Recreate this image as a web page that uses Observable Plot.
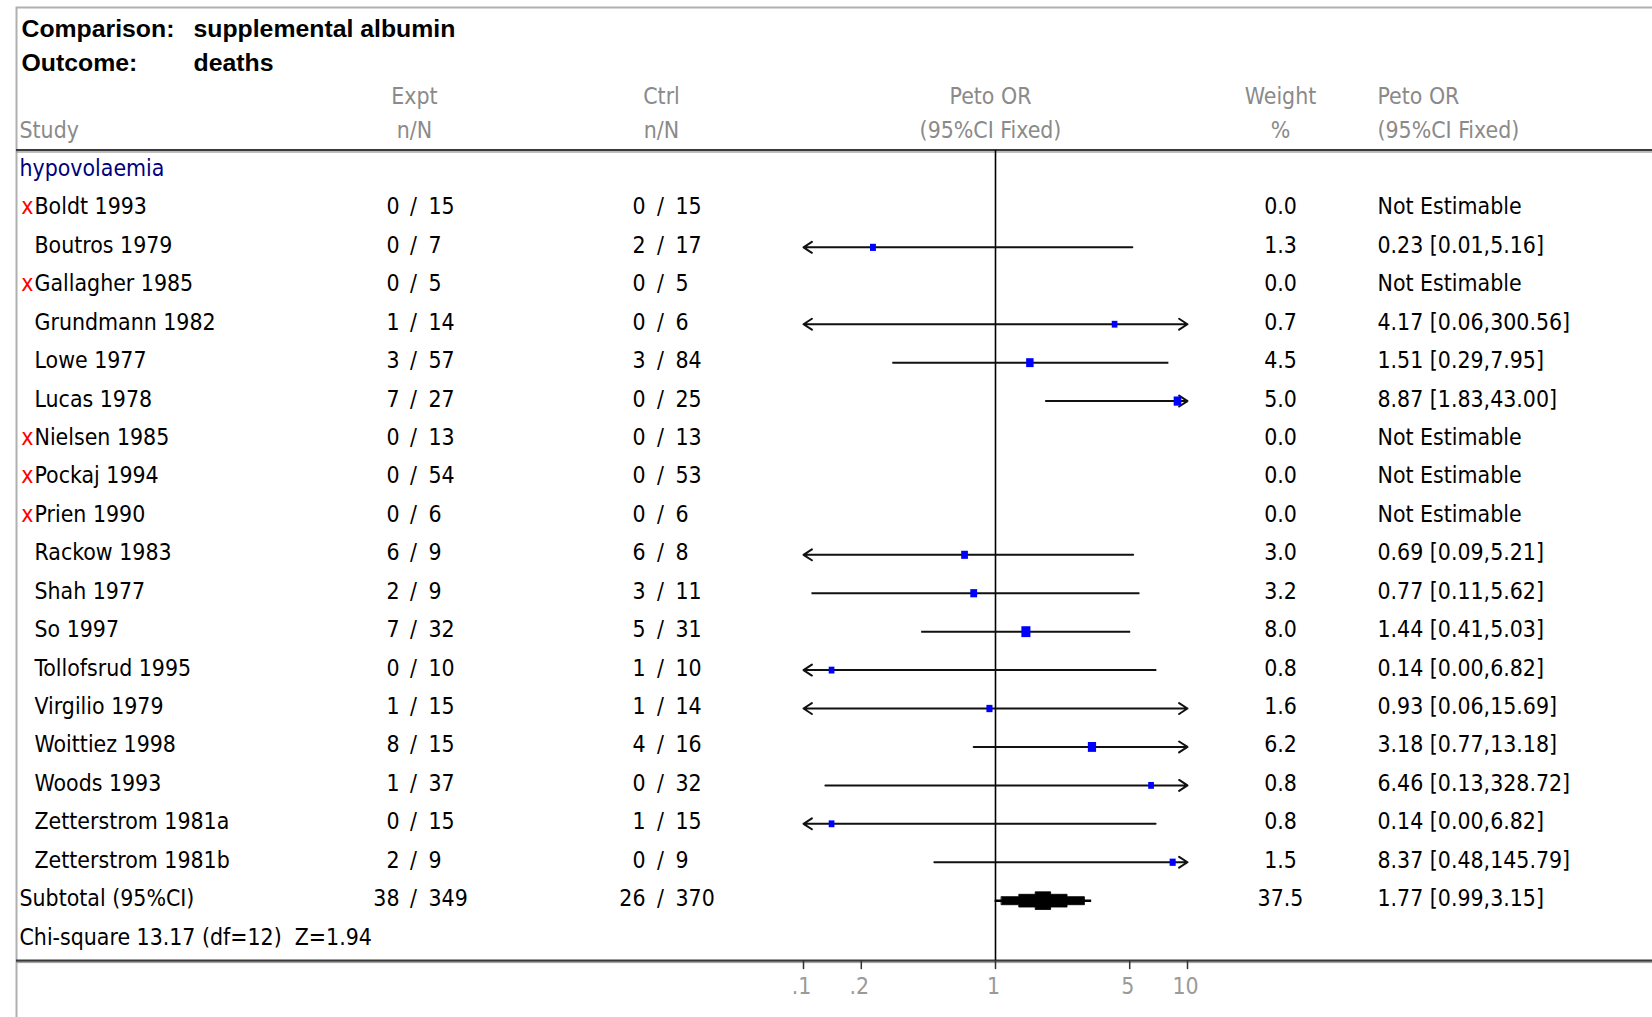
<!DOCTYPE html>
<html>
<head>
<meta charset="utf-8">
<script src="https://cdn.jsdelivr.net/npm/d3@7"></script>
<script src="https://cdn.jsdelivr.net/npm/@observablehq/plot@0.6"></script>
<style>
  html, body { margin: 0; padding: 0; background: #fff; overflow: hidden; }
  #chart svg { display: block; overflow: hidden; }
</style>
</head>
<body>
<div id="chart"></div>
<script>
// ---------------- data ----------------
const comparison = "supplemental albumin";
const outcome = "deaths";
const subgroup = "hypovolaemia";

const studies = ["Boldt 1993", "Boutros 1979", "Gallagher 1985", "Grundmann 1982", "Lowe 1977",
  "Lucas 1978", "Nielsen 1985", "Pockaj 1994", "Prien 1990", "Rackow 1983", "Shah 1977", "So 1997",
  "Tollofsrud 1995", "Virgilio 1979", "Woittiez 1998", "Woods 1993", "Zetterstrom 1981a", "Zetterstrom 1981b"];
const excluded = [true, false, true, false, false, false, true, true, true, false, false, false,
  false, false, false, false, false, false];
const exptEvents = [0, 0, 0, 1, 3, 7, 0, 0, 0, 6, 2, 7, 0, 1, 8, 1, 0, 2];
const exptTotal  = [15, 7, 5, 14, 57, 27, 13, 54, 6, 9, 9, 32, 10, 15, 15, 37, 15, 9];
const ctrlEvents = [0, 2, 0, 0, 3, 0, 0, 0, 0, 6, 3, 5, 1, 1, 4, 0, 1, 0];
const ctrlTotal  = [15, 17, 5, 6, 84, 25, 13, 53, 6, 8, 11, 31, 10, 14, 16, 32, 15, 9];
const weights    = [0.0, 1.3, 0.0, 0.7, 4.5, 5.0, 0.0, 0.0, 0.0, 3.0, 3.2, 8.0, 0.8, 1.6, 6.2, 0.8, 0.8, 1.5];
const oddsRatio  = [null, 0.23, null, 4.17, 1.51, 8.87, null, null, null, 0.69, 0.77, 1.44, 0.14, 0.93, 3.18, 6.46, 0.14, 8.37];
const ciLow      = [null, 0.01, null, 0.06, 0.29, 1.83, null, null, null, 0.09, 0.11, 0.41, 0.00, 0.06, 0.77, 0.13, 0.00, 0.48];
const ciHigh     = [null, 5.16, null, 300.56, 7.95, 43.00, null, null, null, 5.21, 5.62, 5.03, 6.82, 15.69, 13.18, 328.72, 6.82, 145.79];

const subtotalLabel = "Subtotal (95%CI)";
const subtotalCounts = [38, 349, 26, 370];         // expt n, expt N, ctrl n, ctrl N
const subtotalEstimate = [37.5, 1.77, 0.99, 3.15]; // weight, OR, low, high
const heterogeneity = "Chi-square 13.17 (df=12)  Z=1.94";

const headTop    = ["Expt", "Ctrl", "Peto OR", "Weight", "Peto OR"];
const headBottom = ["Study", "n/N", "n/N", "(95%CI Fixed)", "%", "(95%CI Fixed)"];
const tickValues = [0.1, 0.2, 1, 5, 10];
const tickLabels = [".1", ".2", "1", "5", "10"];

// ---------------- fonts ----------------
const ctx = document.createElement("canvas").getContext("2d");
function textWidth(font, s) { ctx.font = font; return ctx.measureText(s).width; }
function hasFont(name) {
  const s = "Boutros 1979 hypovolaemia Wwmi";
  return ["monospace", "serif"].every(fb =>
    Math.abs(textWidth(`100px ${fb}`, s) - textWidth(`100px "${name}", ${fb}`, s)) > 1);
}
const narrowFamily = ["Liberation Sans Narrow", "DejaVu Sans Condensed", "Roboto Condensed"].find(hasFont) || "Liberation Sans";
const BODY_FONT = `"${narrowFamily}", "Liberation Sans", Arial, sans-serif`;
const FS = 100 * 138 / textWidth(`100px ${BODY_FONT}`, "Boutros 1979");
const BOLD_FONT = `"Liberation Sans", Arial, sans-serif`;
const FSB = 100 * 153 / textWidth(`bold 100px ${BOLD_FONT}`, "Comparison:");

// ---------------- layout ----------------
const W = 1652, H = 1017, ML = 16, MT = 7;
const rowTop = 170, rowStep = 38.43;
const ROW_COMP = -3.67, ROW_OUT = -2.79, ROW_H1 = -1.915, ROW_H2 = -1.04;
const TOP_EDGE = -0.53, BOTTOM_EDGE = 20.56, TICK_LEN = 0.234, TICK_LABEL_ROW = 21.24;
const TEXT_DY = -1.8;
// stepped diamond: [fraction of CI span from each end, half height in rows]
const DIAMOND_STEPS = [[0.07, 0.105], [0.25, 0.166], [0.42, 0.23]];
const COL = {group: 19, mark: 33, name: 34, bold1: 21, bold2: 193,
  exptN: 399, exptSlash: 413, exptT: 428, exptHead: 414,
  ctrlN: 645, ctrlSlash: 660, ctrlT: 675, ctrlHead: 661,
  forestHead: 990, weight: 1280, ci: 1377};
const INK = "#000", GREY = "#8a8a8a", TICKGREY = "#9a9a9a";
const X_MIN = 0.1, X_MAX = 10;

// ---------------- derived table ----------------
const table = studies.map((name, i) => ({
  name, row: i + 1, excluded: excluded[i],
  en: exptEvents[i], eN: exptTotal[i], cn: ctrlEvents[i], cN: ctrlTotal[i],
  w: weights[i], or: oddsRatio[i], lo: ciLow[i], hi: ciHigh[i]
}));
const subRow = studies.length + 1;
const subtotal = {name: subtotalLabel, row: subRow,
  en: subtotalCounts[0], eN: subtotalCounts[1], cn: subtotalCounts[2], cN: subtotalCounts[3],
  w: subtotalEstimate[0], or: subtotalEstimate[1], lo: subtotalEstimate[2], hi: subtotalEstimate[3]};
const allRows = [...table, subtotal];
const estimable = table.filter(d => d.or != null);

// CI segments: clipped ends get arrowheads
const plain = [], arrows = [];
for (const d of estimable) {
  const loC = Math.max(d.lo, X_MIN), hiC = Math.min(d.hi, X_MAX);
  const cl = d.lo < X_MIN, ch = d.hi > X_MAX;
  if (!cl && !ch) plain.push({row: d.row, a: loC, b: hiC});
  else if (cl && !ch) arrows.push({row: d.row, a: hiC, b: loC});
  else if (!cl && ch) arrows.push({row: d.row, a: loC, b: hiC});
  else { arrows.push({row: d.row, a: d.or, b: loC}); arrows.push({row: d.row, a: d.or, b: hiC}); }
}
// stepped (pixel-style) diamond outline for the pooled estimate
const lgLo = Math.log10(subtotal.lo), lgHi = Math.log10(subtotal.hi);
const at = f => Math.pow(10, lgLo + f * (lgHi - lgLo));
const diamond = [];
{
  const S = DIAMOND_STEPS;
  const top = [];
  for (let k = 0; k < S.length; k++) {
    const [f, h] = S[k];
    if (k > 0) top.push([f, S[k - 1][1]]);
    top.push([f, h]);
  }
  const right = top.slice().reverse().map(([f, h]) => [1 - f, h]);
  const upper = [...top, ...right.map((p, i) => i % 2 === 0 ? [p[0], p[1]] : p)];
  // build the upper outline left->right properly
  const up = [];
  for (let k = 0; k < S.length; k++) {
    const [f, h] = S[k];
    if (k > 0) up.push([f, S[k - 1][1]]);
    up.push([f, h]);
  }
  for (let k = S.length - 1; k >= 0; k--) {
    const [f, h] = S[k];
    up.push([1 - f, h]);
    if (k > 0) up.push([1 - f, S[k - 1][1]]);
  }
  for (const [f, h] of up) diamond.push({x: at(f), y: subRow - h});
  for (const [f, h] of up.slice().reverse()) diamond.push({x: at(f), y: subRow + h});
}
const tallBox = {draw(c, size) { const w = Math.sqrt(size / 1.2), h = w * 1.2; c.rect(-w / 2, -h / 2, w, h); }};

// helper for text columns placed in pixels from the left edge
function col(data, {px, anchor = "start", ...rest}) {
  return Plot.text(data, {frameAnchor: "left", dx: px - ML, textAnchor: anchor,
    fontSize: FS, fill: INK, fontFamily: BODY_FONT, ...rest});
}
const body = (data, o) => col(data, {dy: TEXT_DY, ...o});
const one = (s) => [s];

const plot = Plot.plot({
  width: W, height: H,
  marginLeft: ML, marginTop: MT, marginRight: -3, marginBottom: -3,
  style: {background: "#fff", fontFamily: BODY_FONT, overflow: "hidden"},
  x: {type: "log", domain: [X_MIN, X_MAX], range: [803, 1187], axis: null},
  y: {type: "linear", domain: [0, 20], range: [rowTop, rowTop + 20 * rowStep], axis: null},
  r: {type: "linear", domain: [0, 8], range: [3.3, 5.6]},
  marks: [
    Plot.frame({stroke: "#b0b0b0", strokeWidth: 2}),
    // title block
    col(one("Comparison:"), {px: COL.bold1, y: [ROW_COMP], fontWeight: "bold", fontSize: FSB, fontFamily: BOLD_FONT}),
    col(one(comparison), {px: COL.bold2, y: [ROW_COMP], fontWeight: "bold", fontSize: FSB, fontFamily: BOLD_FONT}),
    col(one("Outcome:"), {px: COL.bold1, y: [ROW_OUT], fontWeight: "bold", fontSize: FSB, fontFamily: BOLD_FONT}),
    col(one(outcome), {px: COL.bold2, y: [ROW_OUT], fontWeight: "bold", fontSize: FSB, fontFamily: BOLD_FONT}),
    // column headers
    col(one(headTop[0]), {px: COL.exptHead, anchor: "middle", y: [ROW_H1], fill: GREY}),
    col(one(headTop[1]), {px: COL.ctrlHead, anchor: "middle", y: [ROW_H1], fill: GREY}),
    col(one(headTop[2]), {px: COL.forestHead, anchor: "middle", y: [ROW_H1], fill: GREY}),
    col(one(headTop[3]), {px: COL.weight, anchor: "middle", y: [ROW_H1], fill: GREY}),
    col(one(headTop[4]), {px: COL.ci, y: [ROW_H1], fill: GREY}),
    col(one(headBottom[0]), {px: COL.group, y: [ROW_H2], fill: GREY}),
    col(one(headBottom[1]), {px: COL.exptHead, anchor: "middle", y: [ROW_H2], fill: GREY}),
    col(one(headBottom[2]), {px: COL.ctrlHead, anchor: "middle", y: [ROW_H2], fill: GREY}),
    col(one(headBottom[3]), {px: COL.forestHead, anchor: "middle", y: [ROW_H2], fill: GREY}),
    col(one(headBottom[4]), {px: COL.weight, anchor: "middle", y: [ROW_H2], fill: GREY}),
    col(one(headBottom[5]), {px: COL.ci, y: [ROW_H2], fill: GREY}),
    // table rules
    Plot.ruleY([TOP_EDGE, BOTTOM_EDGE], {stroke: "#3a3a3a", strokeWidth: 2.2}),
    Plot.ruleY([TOP_EDGE, BOTTOM_EDGE], {stroke: "#9a9a9a", strokeWidth: 1, dy: 2}),
    // line of no effect
    Plot.ruleX([1], {y1: TOP_EDGE, y2: BOTTOM_EDGE, stroke: "#000", strokeWidth: 1.6}),
    // confidence intervals
    Plot.link(plain, {x1: "a", x2: "b", y1: "row", y2: "row", stroke: "#111", strokeWidth: 2}),
    Plot.arrow(arrows, {x1: "a", x2: "b", y1: "row", y2: "row", stroke: "#111", strokeWidth: 2,
      headLength: 7.5, headAngle: 66}),
    // study estimates
    Plot.dot(estimable, {x: "or", y: "row", r: "w", symbol: tallBox, fill: "#0000ff", stroke: "none"}),
    // pooled estimate
    Plot.link([subtotal], {x1: "lo", x2: "hi", y1: "row", y2: "row", stroke: "#000", strokeWidth: 2.5}),
    Plot.line(diamond, {x: "x", y: "y", curve: "linear-closed", fill: "#000", stroke: "#000", strokeWidth: 0.8}),
    // axis
    Plot.ruleX(tickValues, {x: d => d, y1: BOTTOM_EDGE, y2: BOTTOM_EDGE + TICK_LEN, stroke: "#333", strokeWidth: 1.5}),
    Plot.text(tickValues, {x: d => d, y: () => TICK_LABEL_ROW, text: (d, i) => tickLabels[i], dx: -2,
      fill: TICKGREY, fontSize: FS, fontFamily: BODY_FONT}),
    // table body
    body(one(subgroup), {px: COL.group, y: [0], fill: "#000080"}),
    body(table.filter(d => d.excluded), {px: COL.mark, anchor: "end", y: "row", text: () => "x", fill: "#ff0000"}),
    body(table, {px: COL.name, y: "row", text: "name"}),
    body([subtotal], {px: COL.group, y: "row", text: "name"}),
    body(one(heterogeneity), {px: COL.group, y: [subRow + 1]}),
    body(allRows, {px: COL.exptN, anchor: "end", y: "row", text: d => String(d.en)}),
    body(allRows, {px: COL.exptSlash, anchor: "middle", y: "row", text: () => "/"}),
    body(allRows, {px: COL.exptT, y: "row", text: d => String(d.eN)}),
    body(allRows, {px: COL.ctrlN, anchor: "end", y: "row", text: d => String(d.cn)}),
    body(allRows, {px: COL.ctrlSlash, anchor: "middle", y: "row", text: () => "/"}),
    body(allRows, {px: COL.ctrlT, y: "row", text: d => String(d.cN)}),
    body(allRows, {px: COL.weight, anchor: "middle", y: "row", text: d => d.w.toFixed(1)}),
    body(allRows, {px: COL.ci, y: "row", text: d => d.or == null ? "Not Estimable"
      : `${d.or.toFixed(2)} [${d.lo.toFixed(2)},${d.hi.toFixed(2)}]`})
  ]
});
document.getElementById("chart").appendChild(plot);
</script>
</body>
</html>
